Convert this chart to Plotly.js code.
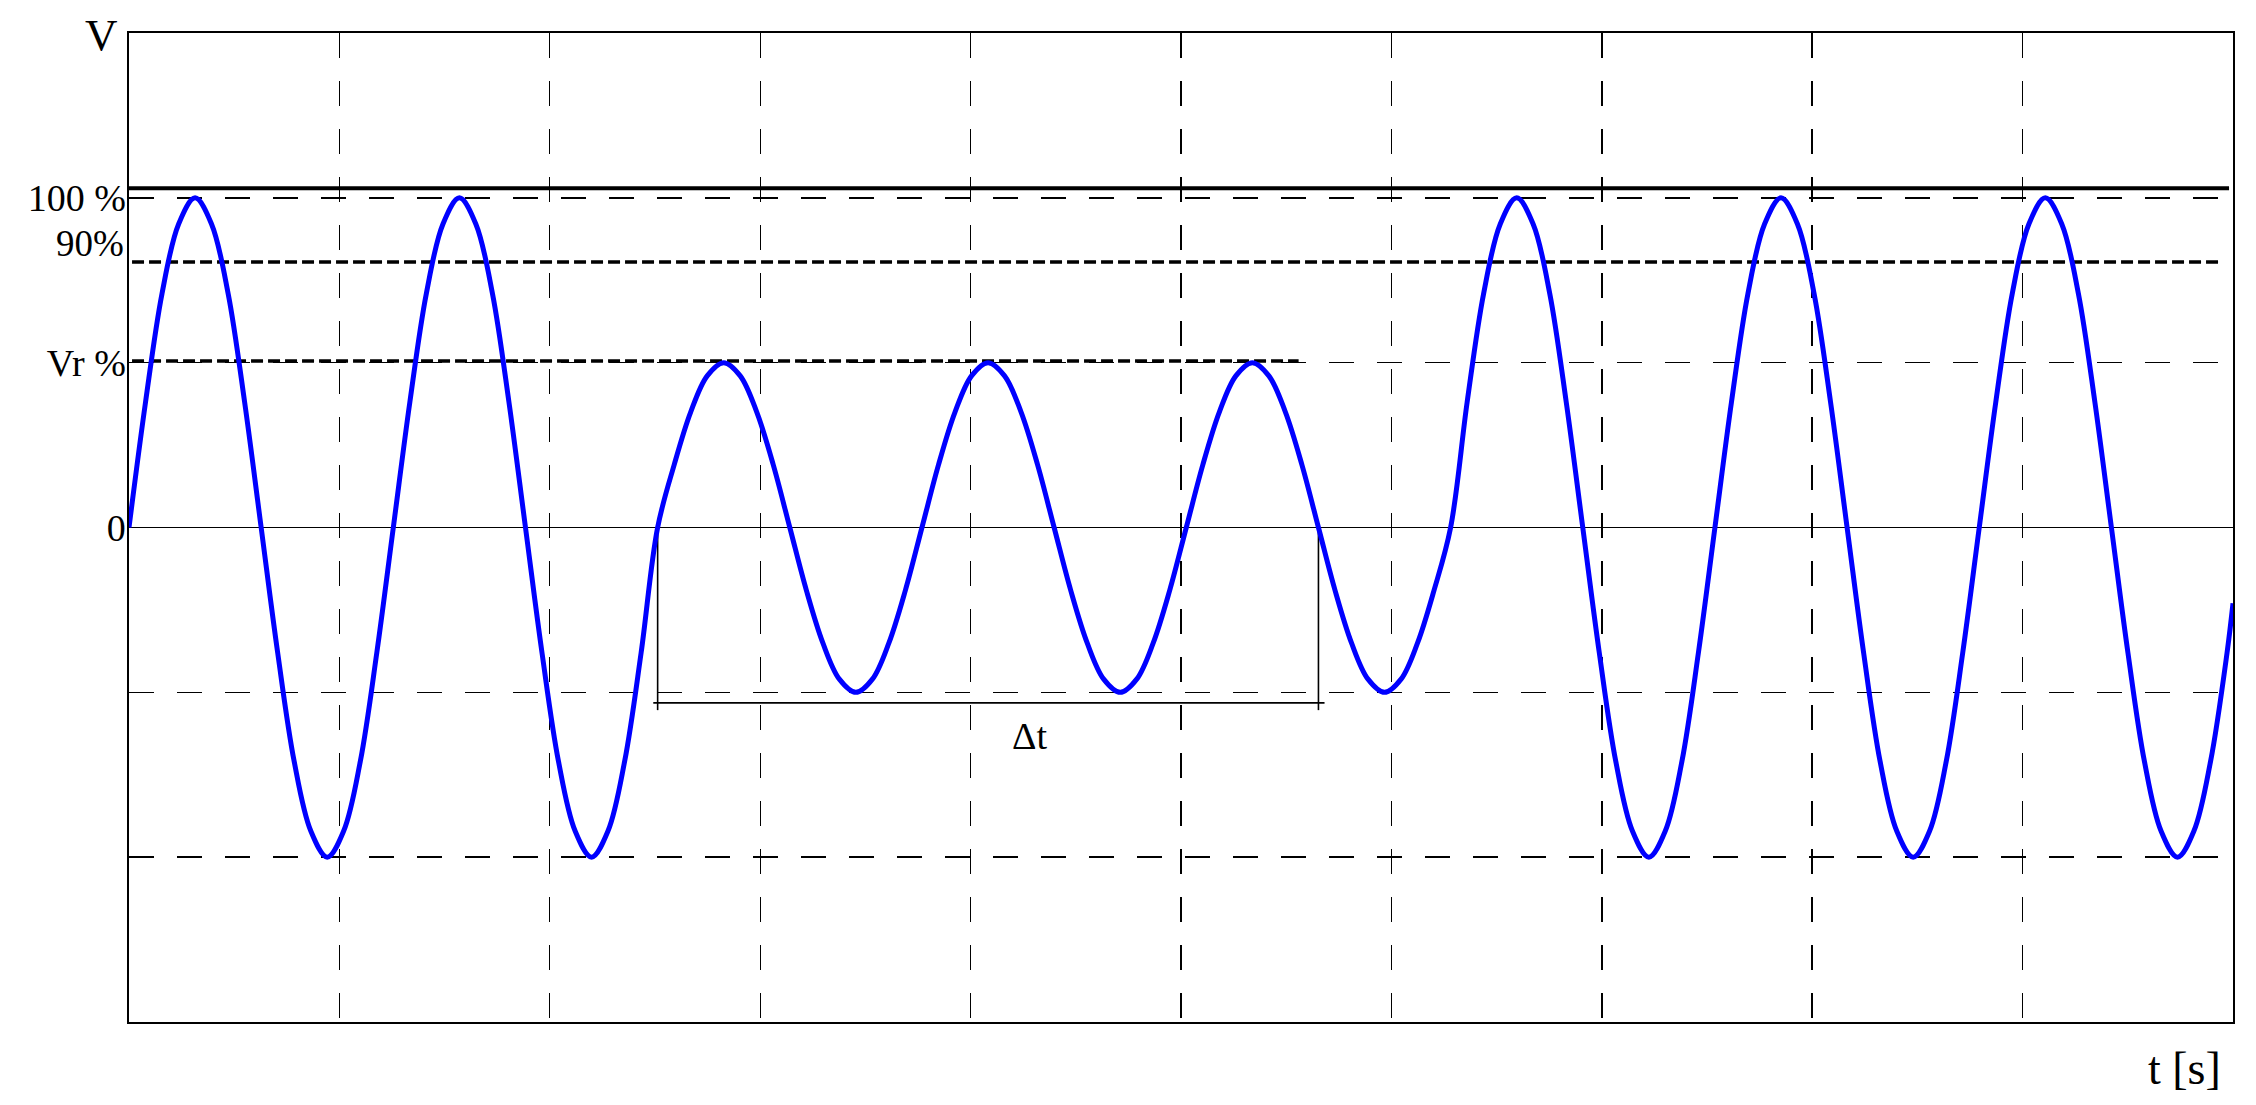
<!DOCTYPE html>
<html>
<head>
<meta charset="utf-8">
<script src="https://cdn.plot.ly/plotly-3.0.1.min.js"></script>
<style>
  html, body { margin: 0; padding: 0; background: #fff; }
  #plot { width: 2256px; height: 1105px; }
</style>
</head>
<body>
<div id="plot"></div>
<script>
// time samples (ms), 16 per 20 ms period
const tMs = [
  0, 1.25, 2.5, 3.75, 5, 6.25, 7.5, 8.75, 10, 11.25, 12.5, 13.75, 15, 16.25, 17.5, 18.75,
  20, 21.25, 22.5, 23.75, 25, 26.25, 27.5, 28.75, 30, 31.25, 32.5, 33.75, 35, 36.25, 37.5, 38.75,
  40, 41.25, 42.5, 43.75, 45, 46.25, 47.5, 48.75, 50, 51.25, 52.5, 53.75, 55, 56.25, 57.5, 58.75,
  60, 61.25, 62.5, 63.75, 65, 66.25, 67.5, 68.75, 70, 71.25, 72.5, 73.75, 75, 76.25, 77.5, 78.75,
  80, 81.25, 82.5, 83.75, 85, 86.25, 87.5, 88.75, 90, 91.25, 92.5, 93.75, 95, 96.25, 97.5, 98.75,
  100, 101.25, 102.5, 103.75, 105, 106.25, 107.5, 108.75, 110, 111.25, 112.5, 113.75, 115, 116.25, 117.5, 118.75,
  120, 121.25, 122.5, 123.75, 125, 126.25, 127.5, 128.75, 130, 131.25, 132.5, 133.75, 135, 136.25, 137.5, 138.75,
  140, 141.25, 142.5, 143.75, 145, 146.25, 147.5, 148.75, 150, 151.25, 152.5, 153.75, 155, 156.25, 157.5, 158.75,
  159.2
];
// voltage in % of nominal: full swing, then the sag (Vr), then full swing again
const voltPct = [
  0, 38, 71, 92, 100, 92, 71, 38, 0, -38, -71, -92, -100, -92, -71, -38,
  0, 38, 71, 92, 100, 92, 71, 38, 0, -38, -71, -92, -100, -92, -71, -38,
  0, 19, 35, 46, 50, 46, 35, 19, 0, -19, -35, -46, -50, -46, -35, -19,
  0, 19, 35, 46, 50, 46, 35, 19, 0, -19, -35, -46, -50, -46, -35, -19,
  0, 19, 35, 46, 50, 46, 35, 19, 0, -19, -35, -46, -50, -46, -35, -19,
  0, 38, 71, 92, 100, 92, 71, 38, 0, -38, -71, -92, -100, -92, -71, -38,
  0, 38, 71, 92, 100, 92, 71, 38, 0, -38, -71, -92, -100, -92, -71, -38,
  0, 38, 71, 92, 100, 92, 71, 38, 0, -38, -71, -92, -100, -92, -71, -38,
  -23
];

// reference levels (%)
const level100 = 102.9;
const level90 = 80.5;
const levelVr = 50.5;

// sag duration bracket (ms) and its height (%)
const sagStart = 40;
const sagEnd = 90;
const bracketY = -53.2;
const bracketLow = -55.4;

const yTicks = [-100, -50, 0, 50, 100];
const yTickText = ['', '', '0', 'Vr %', '100 %'];

const tEnd = 159.2;

const serif = 'Liberation Serif, Times New Roman, serif';

const data = [
  {
    x: [0, 158.9], y: [level100, level100],
    mode: 'lines', line: { color: '#000', width: 4 }, hoverinfo: 'skip'
  },
  {
    x: [0.23, 158.3], y: [level90, level90],
    mode: 'lines', line: { color: '#000', width: 3.5, dash: '12px,5px' }, hoverinfo: 'skip'
  },
  {
    x: [0.23, 88.5], y: [levelVr, levelVr],
    mode: 'lines', line: { color: '#000', width: 3.5, dash: '12px,5px' }, hoverinfo: 'skip'
  },
  // delta t bracket
  {
    x: [sagStart, sagStart, null, sagEnd, sagEnd, null, sagStart - 0.33, sagEnd + 0.46],
    y: [0, bracketLow, null, 0, bracketLow, null, bracketY, bracketY],
    mode: 'lines', line: { color: '#000', width: 1.6 }, hoverinfo: 'skip'
  },
  {
    x: tMs, y: voltPct,
    mode: 'lines', line: { color: '#0000ff', width: 5, shape: 'spline', smoothing: 1 }
  }
];

const layout = {
  width: 2256,
  height: 1105,
  margin: { l: 129, r: 23, t: 33, b: 83 },
  paper_bgcolor: '#fff',
  plot_bgcolor: '#fff',
  showlegend: false,
  font: { family: serif, color: '#000', size: 38 },
  xaxis: {
    range: [0, tEnd],
    tick0: 0,
    dtick: tEnd / 10,
    showticklabels: false,
    ticks: '',
    showgrid: true,
    gridcolor: '#000',
    gridwidth: 1.4,
    griddash: '25px,23px',
    zeroline: false,
    showline: true,
    mirror: true,
    linecolor: '#000',
    linewidth: 1.6
  },
  yaxis: {
    range: [-150, 150],
    tickvals: yTicks,
    ticktext: yTickText,
    tickfont: { family: serif, size: 38, color: '#000' },
    ticks: '',
    ticklabelstandoff: -6,
    showgrid: true,
    gridcolor: '#000',
    gridwidth: 1.4,
    griddash: '25px,23px',
    zeroline: true,
    zerolinecolor: '#000',
    zerolinewidth: 1.8,
    showline: true,
    mirror: true,
    linecolor: '#000',
    linewidth: 1.6
  },
  annotations: [
    {
      text: 'V', xref: 'paper', yref: 'paper', x: 0, y: 1,
      xanchor: 'right', yanchor: 'middle', xshift: -9, yshift: -2,
      showarrow: false, font: { family: serif, size: 45, color: '#000' }
    },
    {
      text: '90%', xref: 'paper', yref: 'y', x: 0, y: 86.3,
      xanchor: 'right', yanchor: 'middle', xshift: -3,
      showarrow: false, font: { family: serif, size: 37, color: '#000' }
    },
    {
      text: '\u0394t', xref: 'x', yref: 'y', x: 68.1, y: -63.3,
      xanchor: 'center', yanchor: 'middle',
      showarrow: false, font: { family: serif, size: 38, color: '#000' }
    },
    {
      text: 't [s]', xref: 'paper', yref: 'paper', x: 1, y: 0,
      xanchor: 'right', yanchor: 'middle', xshift: -10, yshift: -46,
      showarrow: false, font: { family: serif, size: 46, color: '#000' }
    }
  ]
};

Plotly.newPlot('plot', data, layout, { displayModeBar: false, staticPlot: true });
</script>
</body>
</html>
